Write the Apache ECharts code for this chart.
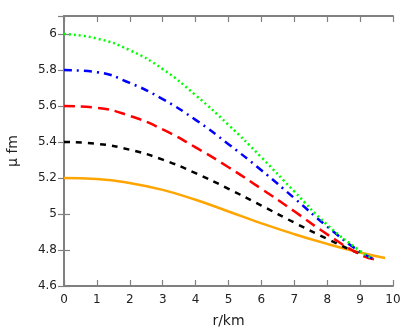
<!DOCTYPE html>
<html>
<head>
<meta charset="utf-8">
<script src="https://cdn.jsdelivr.net/npm/echarts@6/dist/echarts.min.js"></script>
<style>
html,body{margin:0;padding:0;background:#fff;}
#c{width:415px;height:331px;}
</style>
</head>
<body>
<div id="c"></div>
<script>
// radius grid (km)
const rKm = [0, 1, 2, 3, 4, 5, 6, 7, 8, 9];
// mu values (fm) for each curve
const muGreen  = [6.000, 5.975, 5.910, 5.805, 5.660, 5.495, 5.315, 5.125, 4.940, 4.795];
const muBlue   = [5.800, 5.788, 5.728, 5.638, 5.523, 5.388, 5.243, 5.088, 4.930, 4.790];
const muRed    = [5.600, 5.590, 5.545, 5.470, 5.370, 5.260, 5.140, 5.015, 4.887, 4.775];
const muBlack  = [5.400, 5.390, 5.357, 5.302, 5.227, 5.140, 5.047, 4.952, 4.862, 4.778];
const muOrange = [5.200, 5.194, 5.172, 5.134, 5.079, 5.014, 4.948, 4.888, 4.834, 4.786];
// surface end points [r, mu]
const endGreen  = [9.40, 4.750];
const endBlue   = [9.45, 4.748];
const endRed    = [9.45, 4.748];
const endBlack  = [9.45, 4.748];
const endOrange = [9.76, 4.755];
// axis ticks
const xTicks = [0, 1, 2, 3, 4, 5, 6, 7, 8, 9, 10];
const yTicks = [4.6, 4.8, 5.0, 5.2, 5.4, 5.6, 5.8, 6.0];

function pts(vals, end) {
  const out = rKm.map((r, i) => [r, vals[i]]);
  out.push(end);
  return out;
}

const axisGrey = '#808080';
const font = 'DejaVu Sans';

const chart = echarts.init(document.getElementById('c'), null, {renderer: 'canvas'});
function mkLine(name, vals, end, color, type, width) {
  return {
    name: name, type: 'line', data: pts(vals, end), smooth: 0.5,
    showSymbol: false, symbol: 'none', clip: false,
    lineStyle: {color: color, width: width, type: type, cap: 'butt'},
    z: 3
  };
}
chart.setOption({
  animation: false,
  backgroundColor: '#fff',
  grid: {left: 64, right: 22, top: 16, bottom: 45, containLabel: false, outerBoundsMode: 'none'},
  xAxis: [{
    type: 'value', min: xTicks[0], max: xTicks[xTicks.length - 1], interval: 1,
    name: 'r/km', nameLocation: 'middle', nameGap: 28,
    nameTextStyle: {fontFamily: font, fontSize: 14, color: '#222'},
    axisLine: {show: true, lineStyle: {color: axisGrey, width: 2}},
    axisTick: {show: true, inside: true, length: 6, lineStyle: {color: axisGrey, width: 1.2}},
    axisLabel: {fontFamily: font, fontSize: 12, color: '#222', margin: 8},
    splitLine: {show: false}
  }, {
    type: 'value', position: 'top', min: xTicks[0], max: xTicks[xTicks.length - 1], interval: 1,
    axisLine: {show: true, lineStyle: {color: axisGrey, width: 2}},
    axisTick: {show: true, inside: true, length: 6, lineStyle: {color: axisGrey, width: 1.2}},
    axisLabel: {show: false}, splitLine: {show: false}
  }],
  yAxis: [{
    type: 'value', min: yTicks[0], max: 6.1, interval: 0.2,
    name: 'μ fm', nameLocation: 'middle', nameGap: 44, nameRotate: 90,
    nameTextStyle: {fontFamily: font, fontSize: 14, color: '#222'},
    axisLine: {show: true, lineStyle: {color: axisGrey, width: 2}},
    axisTick: {show: true, inside: true, length: 6, lineStyle: {color: axisGrey, width: 1.2}},
    axisLabel: {fontFamily: font, fontSize: 12, color: '#222', margin: 7, showMaxLabel: false,
      formatter: v => (yTicks.some(t => Math.abs(t - v) < 1e-6) ? String(+v.toFixed(1)) : '')},
    splitLine: {show: false}
  }, {
    type: 'value', position: 'right', min: yTicks[0], max: 6.1, interval: 0.2,
    axisLine: {show: true, lineStyle: {color: axisGrey, width: 2}},
    axisTick: {show: true, inside: true, length: 6, lineStyle: {color: axisGrey, width: 1.2}},
    axisLabel: {show: false}, splitLine: {show: false}
  }],
  series: [
    mkLine('orange', muOrange, endOrange, '#ffa500', 'solid', 2.5),
    mkLine('black', muBlack, endBlack, '#000000', [6, 6], 2.5),
    mkLine('red', muRed, endRed, '#ff0000', [11, 6], 2.5),
    mkLine('blue', muBlue, endBlue, '#0000ff', [8, 5, 2, 5], 2.5),
    mkLine('green', muGreen, endGreen, '#00ff00', [2, 3], 2.5)
  ]
});
</script>
</body>
</html>
